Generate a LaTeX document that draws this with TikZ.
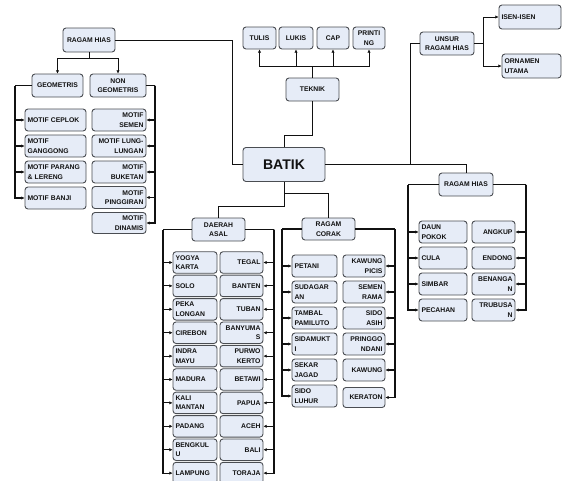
\documentclass[tikz,border=0pt]{standalone}
\usepackage{fontspec}
\setsansfont{Liberation Sans}
\usetikzlibrary{arrows.meta}
\definecolor{ink}{HTML}{111111}
\definecolor{edge}{HTML}{4A4D52}
\definecolor{soft}{HTML}{E6ECF7}
\tikzset{
  box/.style={draw=edge,line width=.9pt,rounded corners=3pt,fill=soft,inner xsep=2.5pt,inner ysep=0pt,align=center,
    font=\sffamily\bfseries\fontsize{6.8}{9.4}\selectfont,text=ink},
  lbox/.style={box,align=left,text width=#1,minimum height=22pt},
  rbox/.style={box,align=right,text width=#1,minimum height=22pt},
  ln/.style={draw=ink,line width=.8pt},
  br/.style={draw=ink,line width=1.1pt},
  ar/.style={-{Latex[length=3.2pt,width=3.4pt]},draw=ink,line width=1.1pt},
  arl/.style={-{Latex[length=3.2pt,width=3.4pt]},draw=ink,line width=.8pt},
}
\begin{document}
\begin{tikzpicture}[x=1pt,y=-1pt]
  \useasboundingbox (0,0) rectangle (562,480);
  % main node
  \node[box,minimum width=82pt,minimum height=34pt,font=\sffamily\bfseries\fontsize{14}{16}\selectfont] (batik) at (284,164.5) {BATIK};

  % teknik
  \node[box,minimum width=53pt,minimum height=23pt] (tek) at (312.5,89.5) {TEKNIK};
  \node[box,minimum width=33pt,minimum height=22pt] (tulis) at (259.5,38) {TULIS};
  \node[box,minimum width=34pt,minimum height=22pt] (lukis) at (296,38) {LUKIS};
  \node[box,minimum width=32pt,minimum height=22pt] (cap) at (333,38) {CAP};
  \node[box,minimum width=32pt,minimum height=22pt] (print) at (369,38) {PRINTI\\NG};
  \coordinate (tk) at (312.5,66);
  \draw[arl] (tek.north) -- (tk) -| (tulis.south);
  \draw[arl] (tk) -| (lukis.south);
  \draw[arl] (tk) -| (cap.south);
  \draw[arl] (tk) -| (print.south);
  \coordinate (tb) at (312.5,135);
  \draw[ln] (tek.south) -- (tb) -| (batik.north);

  % unsur ragam hias
  \node[box,minimum width=54pt,minimum height=23pt] (unsur) at (447,43.5) {UNSUR\\RAGAM HIAS};
  \node[lbox=57pt,minimum height=24pt] (isen) at (530,17) {ISEN-ISEN};
  \node[lbox=54pt,minimum height=24pt] (orn) at (531.5,66) {ORNAMEN\\UTAMA};
  \coordinate (uj) at (483,43.5);
  \draw[arl] (unsur.east) -- (uj) |- (isen.west);
  \draw[arl] (uj) |- (orn.west);
  \coordinate (ub) at (410,164.5);
  \draw[ln] (unsur.west) -| (ub);

  % ragam hias (left)
  \node[box,minimum width=52pt,minimum height=24pt] (rh) at (89,40) {RAGAM HIAS};
  \node[box,minimum width=51pt,minimum height=23pt] (geo) at (57.5,85.5) {GEOMETRIS};
  \node[box,minimum width=56pt,minimum height=23pt] (ngeo) at (118,85.5) {NON\\GEOMETRIS};
  \coordinate (rj) at (89,58);
  \draw[arl] (rh.south) -- (rj) -| (geo.north);
  \draw[arl] (rj) -| (ngeo.north);
  \coordinate (bl) at (232,164.5);
  \draw[ln] (rh.east) -| (bl) -- (batik.west);

  \node[lbox=56pt] (g1) at (55.5,120) {MOTIF CEPLOK};
  \node[lbox=56pt] (g2) at (55.5,146) {MOTIF\\GANGGONG};
  \node[lbox=56pt] (g3) at (55.5,172) {MOTIF PARANG\\\& LERENG};
  \node[lbox=56pt] (g4) at (55.5,198) {MOTIF BANJI};
  \coordinate (gl) at (15,85.5);
  \draw[br] (geo.west) -- (gl);
  \draw[ar] (gl) |- (g1.west);
  \draw[ar] (gl) |- (g2.west);
  \draw[ar] (gl) |- (g3.west);
  \draw[ar] (gl) |- (g4.west);

  \node[rbox=49pt] (n1) at (119,120) {MOTIF\\SEMEN};
  \node[rbox=49pt] (n2) at (119,146) {MOTIF LUNG-\\LUNGAN};
  \node[rbox=49pt] (n3) at (119,172) {MOTIF\\BUKETAN};
  \node[rbox=49pt] (n4) at (119,197.5) {MOTIF\\PINGGIRAN};
  \node[rbox=49pt,minimum height=21pt] (n5) at (119,223) {MOTIF\\DINAMIS};
  \coordinate (nr) at (155,85.5);
  \draw[br] (ngeo.east) -- (nr);
  \draw[ar] (nr) |- (n1.east);
  \draw[ar] (nr) |- (n2.east);
  \draw[ar] (nr) |- (n3.east);
  \draw[ar] (nr) |- (n4.east);
  \draw[ar] (nr) |- (n5.east);

  % daerah asal
  \node[box,minimum width=53pt,minimum height=23pt] (daerah) at (218.5,229.5) {DAERAH\\ASAL};
  \coordinate (bj) at (284,206);
  \draw[ln] (batik.south) -- (bj) -| (daerah.north);
  \node[lbox=39pt,minimum height=21.5pt] (d1) at (195,262.5) {YOGYA\\KARTA};
  \node[lbox=39pt,minimum height=21.5pt] (d2) at (195,285.9) {SOLO};
  \node[lbox=39pt,minimum height=21.5pt] (d3) at (195,309.3) {PEKA\\LONGAN};
  \node[lbox=39pt,minimum height=21.5pt] (d4) at (195,332.7) {CIREBON};
  \node[lbox=39pt,minimum height=21.5pt] (d5) at (195,356.1) {INDRA\\MAYU};
  \node[lbox=39pt,minimum height=21.5pt] (d6) at (195,379.5) {MADURA};
  \node[lbox=39pt,minimum height=21.5pt] (d7) at (195,402.9) {KALI\\MANTAN};
  \node[lbox=39pt,minimum height=21.5pt] (d8) at (195,426.3) {PADANG};
  \node[lbox=39pt,minimum height=21.5pt] (d9) at (195,449.7) {BENGKUL\\U};
  \node[lbox=39pt,minimum height=21.5pt] (d10) at (195,473.1) {LAMPUNG};
  \node[rbox=38pt,minimum height=21.5pt] (e1) at (241.5,262.5) {TEGAL};
  \node[rbox=38pt,minimum height=21.5pt] (e2) at (241.5,285.9) {BANTEN};
  \node[rbox=38pt,minimum height=21.5pt] (e3) at (241.5,309.3) {TUBAN};
  \node[rbox=38pt,minimum height=21.5pt] (e4) at (241.5,332.7) {BANYUMA\\S};
  \node[rbox=38pt,minimum height=21.5pt] (e5) at (241.5,356.1) {PURWO\\KERTO};
  \node[rbox=38pt,minimum height=21.5pt] (e6) at (241.5,379.5) {BETAWI};
  \node[rbox=38pt,minimum height=21.5pt] (e7) at (241.5,402.9) {PAPUA};
  \node[rbox=38pt,minimum height=21.5pt] (e8) at (241.5,426.3) {ACEH};
  \node[rbox=38pt,minimum height=21.5pt] (e9) at (241.5,449.7) {BALI};
  \node[rbox=38pt,minimum height=21.5pt] (e10) at (241.5,473.1) {TORAJA};
  \coordinate (dl) at (163,229.5);
  \coordinate (dr) at (274,229.5);
  \draw[br] (daerah.west) -- (dl);
  \draw[br] (daerah.east) -- (dr);
  \foreach \i in {1,...,10} {
    \draw[ar] (dl) |- (d\i.west);
    \draw[ar] (dr) |- (e\i.east);
  }

  % ragam corak
  \node[box,minimum width=53pt,minimum height=22pt] (corak) at (328.5,229) {RAGAM\\CORAK};
  \coordinate (cj) at (284,193);
  \draw[ln] (cj) -| (corak.north);
  \node[lbox=40pt] (c1) at (314.5,266) {PETANI};
  \node[lbox=40pt] (c2) at (314.5,292) {SUDAGAR\\AN};
  \node[lbox=40pt] (c3) at (314.5,318) {TAMBAL\\PAMILUTO};
  \node[lbox=40pt] (c4) at (314.5,344) {SIDAMUKT\\I};
  \node[lbox=40pt] (c5) at (314.5,370) {SEKAR\\JAGAD};
  \node[lbox=40pt] (c6) at (314.5,396) {SIDO\\LUHUR};
  \node[rbox=37pt] (k1) at (364,266) {KAWUNG\\PICIS};
  \node[rbox=37pt] (k2) at (364,292) {SEMEN\\RAMA};
  \node[rbox=37pt] (k3) at (364,318) {SIDO\\ASIH};
  \node[rbox=37pt] (k4) at (364,344) {PRINGGO\\NDANI};
  \node[rbox=37pt] (k5) at (364,370) {KAWUNG};
  \node[rbox=37pt,minimum height=20pt] (k6) at (364,397.5) {KERATON};
  \coordinate (cl) at (282,229);
  \coordinate (cr) at (395,229);
  \draw[br] (corak.west) -- (cl);
  \draw[br] (corak.east) -- (cr);
  \foreach \i in {1,...,6} {
    \draw[ar] (cl) |- (c\i.west);
    \draw[ar] (cr) |- (k\i.east);
  }

  % ragam hias (right)
  \node[box,minimum width=54pt,minimum height=23pt] (rhb) at (466,184.5) {RAGAM HIAS};
  \draw[ln] (batik.east) -| (rhb.north);
  \node[lbox=43pt] (h1) at (443,232) {DAUN\\POKOK};
  \node[lbox=43pt] (h2) at (443,258) {CULA};
  \node[lbox=43pt] (h3) at (443,284) {SIMBAR};
  \node[lbox=43pt] (h4) at (443,310) {PECAHAN};
  \node[rbox=38pt] (u1) at (493.5,232) {ANGKUP};
  \node[rbox=38pt] (u2) at (493.5,258) {ENDONG};
  \node[rbox=38pt] (u3) at (493.5,284) {BENANGA\\N};
  \node[rbox=38pt] (u4) at (493.5,310) {TRUBUSA\\N};
  \coordinate (hl) at (408,184.5);
  \coordinate (hr) at (526,184.5);
  \draw[br] (rhb.west) -- (hl);
  \draw[br] (rhb.east) -- (hr);
  \foreach \i in {1,...,4} {
    \draw[ar] (hl) |- (h\i.west);
    \draw[ar] (hr) |- (u\i.east);
  }
\end{tikzpicture}
\end{document}
